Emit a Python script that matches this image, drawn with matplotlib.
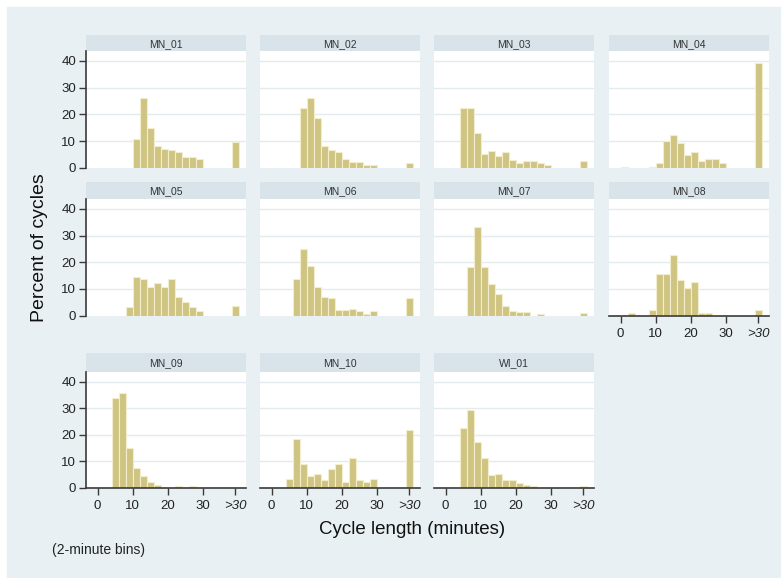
import numpy as np
import matplotlib
matplotlib.use("Agg")
import matplotlib.pyplot as plt

plt.rcParams['font.family'] = ['Liberation Sans', 'DejaVu Sans']

# percent of cycles in each 2-minute bin (0-2, 2-4, ..., 28-30)
bin_left = np.arange(0, 30, 2)
mn01 = [0, 0, 0, 0, 0, 11.0, 26.2, 15.0, 8.4, 7.2, 6.6, 6.1, 4.2, 4.2, 3.4]
mn02 = [0, 0, 0, 0, 22.4, 26.2, 18.8, 8.4, 6.6, 6.1, 3.4, 2.4, 2.4, 1.0, 1.0]
mn03 = [0, 0, 22.3, 22.3, 12.9, 5.4, 6.4, 4.4, 5.8, 3.0, 2.0, 2.5, 2.5, 2.0, 1.1]
mn04 = [0.4, 0, 0, 0, 0.4, 2.0, 10.2, 12.4, 9.5, 4.9, 5.8, 2.5, 3.5, 3.5, 2.0]
mn05 = [0, 0, 0, 0, 3.3, 14.6, 13.6, 10.9, 12.2, 10.9, 13.6, 7.0, 5.2, 3.3, 1.6]
mn06 = [0, 0, 0, 13.6, 24.8, 18.5, 10.9, 7.0, 6.5, 2.0, 2.0, 2.5, 1.6, 0.6, 1.6]
mn07 = [0, 0, 0, 18.3, 33.2, 18.3, 12.0, 8.0, 3.7, 1.9, 1.4, 1.4, 0, 0.5, 0]
mn08 = [0, 0.9, 0, 0, 2.2, 15.8, 15.8, 22.9, 13.4, 10.2, 12.5, 0.9, 0.9, 0, 0]
mn09 = [0, 0, 33.7, 35.6, 15.0, 7.6, 4.3, 2.1, 1.0, 0, 0, 0.5, 0, 0.5, 0]
mn10 = [0, 0, 3.3, 18.3, 9.0, 4.3, 5.2, 2.9, 7.1, 9.0, 2.1, 11.3, 2.9, 2.1, 3.3]
wi01 = [0, 0, 22.6, 29.1, 17.3, 11.3, 4.7, 5.3, 2.9, 2.9, 1.6, 1.0, 0.5, 0, 0]

# cycles longer than 30 minutes
over30 = [9.8, 2.0, 2.5, 39.3, 3.8, 6.5, 0.9, 2.2, 0, 21.6, 0.5]

names = ["MN_01", "MN_02", "MN_03", "MN_04", "MN_05", "MN_06",
         "MN_07", "MN_08", "MN_09", "MN_10", "WI_01"]
series = [mn01, mn02, mn03, mn04, mn05, mn06, mn07, mn08, mn09, mn10, wi01]

xticks = [0, 10, 20, 30, 39.4]
xticklabels = ["0", "10", "20", "30", ">30"]
yticks = [0, 10, 20, 30, 40]

bg = "#e8f0f3"
strip_col = "#d8e4ea"
grid_col = "#e3ebee"
bar_col = "#cfc482"
bar_edge = "#f2eecd"
axis_col = "#3a3a3a"

W, H = 781, 578
fig = plt.figure(figsize=(W / 100, H / 100), dpi=100)
fig.patch.set_facecolor("white")
fig.add_artist(plt.Rectangle((7 / W, 0), 1 - 7 / W, 1 - 7 / H,
                             transform=fig.transFigure, color=bg, zorder=0))

col_x = [86, 260, 434, 609]
panel_w = 160
rows = [(35, 51, 168), (182, 199, 315.7), (353, 371.7, 487.7)]


def fx(px):
    return px / W


def fy(py):
    return 1 - py / H


for i, (name, vals) in enumerate(zip(names, series)):
    r, c = divmod(i, 4)
    s_top, p_top, p_bot = rows[r]
    x0 = col_x[c]

    # strip with panel name
    sax = fig.add_axes([fx(x0), fy(p_top), panel_w / W, (p_top - s_top) / H])
    sax.set_facecolor(strip_col)
    sax.set_xticks([])
    sax.set_yticks([])
    for sp in sax.spines.values():
        sp.set_visible(False)
    sax.text(0.5, 0.45, name, ha="center", va="center", fontsize=7.5,
             color="#333333", transform=sax.transAxes)

    ax = fig.add_axes([fx(x0), fy(p_bot), panel_w / W, (p_bot - p_top) / H])
    ax.set_facecolor("white")
    ax.set_xlim(-3.3, 42.4)
    ax.set_ylim(0, 43.7)
    for y in yticks[1:]:
        ax.axhline(y, color=grid_col, lw=1.0, zorder=0)

    vals = np.array(vals)
    keep = vals > 0
    ax.bar(bin_left[keep], vals[keep], width=2, align="edge",
           color=bar_col, edgecolor=bar_edge, linewidth=0.8, zorder=2)
    if over30[i] > 0:
        ax.bar(38.4, over30[i], width=2, align="edge",
               color=bar_col, edgecolor=bar_edge, linewidth=0.8, zorder=2)

    for sp in ax.spines.values():
        sp.set_visible(False)

    if c == 0:
        ax.spines["left"].set_visible(True)
        ax.spines["left"].set_color(axis_col)
        ax.spines["left"].set_linewidth(1.2)
        ax.set_yticks(yticks)
        ax.tick_params(axis="y", length=5, width=1, color=axis_col,
                       labelsize=9.5, labelcolor="#222222", pad=2)
    else:
        ax.set_yticks([])

    if i >= 7:
        ax.spines["bottom"].set_visible(True)
        ax.spines["bottom"].set_color(axis_col)
        ax.spines["bottom"].set_linewidth(1.2)
        ax.set_xticks(xticks)
        ax.set_xticklabels(xticklabels)
        ax.tick_params(axis="x", length=5, width=1, color=axis_col,
                       labelsize=9.5, labelcolor="#222222", pad=4)
        ax.get_xticklabels()[-1].set_style("italic")
    else:
        ax.set_xticks([])

fig.text(fx(40), fy(248), "Percent of cycles", rotation=90,
         ha="center", va="center", fontsize=14, color="#111111")
fig.text(fx(412), fy(530), "Cycle length (minutes)",
         ha="center", va="center", fontsize=13.5, color="#111111")
fig.text(fx(52), fy(550), "(2-minute bins)",
         ha="left", va="center", fontsize=10, color="#222222")

fig.savefig("out.png", dpi=100)
